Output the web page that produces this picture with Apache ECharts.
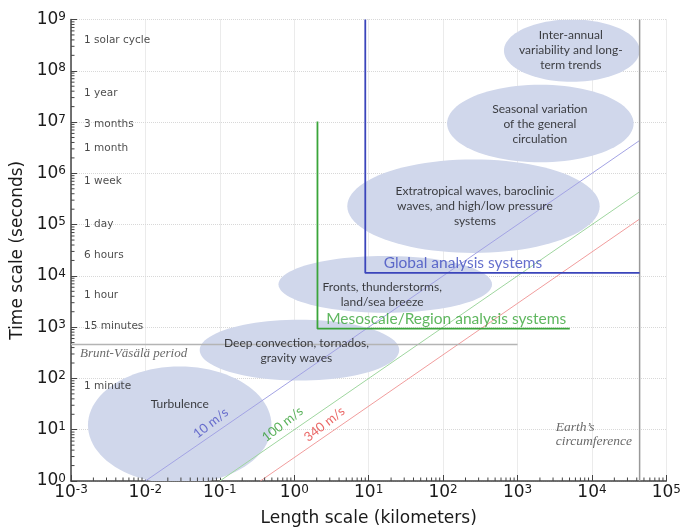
<!DOCTYPE html>
<html>
<head>
<meta charset="utf-8">
<script src="https://cdn.jsdelivr.net/npm/echarts@6.0.0/dist/echarts.min.js"></script>
<style>
  html, body { margin: 0; padding: 0; background: #fff; }
  #chart { width: 684px; height: 532px; }
</style>
</head>
<body>
<div id="chart"></div>
<script>
// ---------- data ----------
// axis extents (km, seconds)
const X_MIN = 1e-3, X_MAX = 1e5;
const Y_MIN = 1e0, Y_MAX = 1e9;
// minor tick layout (multiples within each decade)
const MINOR_MULT = [2, 3, 4, 5, 6, 7, 8, 9];
const X_DECADES = [1e-3, 1e-2, 1e-1, 1e0, 1e1, 1e2, 1e3, 1e4];
const Y_DECADES = [1e0, 1e1, 1e2, 1e3, 1e4, 1e5, 1e6, 1e7, 1e8];

// time reference labels (seconds)
const TIME_LABELS = ['1 solar cycle', '1 year', '3 months', '1 month', '1 week', '1 day', '6 hours', '1 hour', '15 minutes', '1 minute'];
const TIME_VALUES = [3.47e8, 3.156e7, 7.89e6, 2.63e6, 6.048e5, 86400, 21600, 3600, 900, 60];
const TIME_LABEL_X = 1.5e-3;

// phenomena ellipses (bounding boxes in km / seconds)
const PHENOMENA = [
  'Turbulence',
  'Deep convection, tornados,\ngravity waves',
  'Fronts, thunderstorms,\nland/sea breeze',
  'Extratropical waves, baroclinic\nwaves, and high/low pressure\nsystems',
  'Seasonal variation\nof the general\ncirculation',
  'Inter-annual\nvariability and long-\nterm trends'
];
const PHEN_X_MIN = [1.69e-3, 0.0536, 0.614, 5.16, 113, 657];
const PHEN_X_MAX = [0.494, 25.7, 454, 1.27e4, 3.63e4, 4.37e4];
const PHEN_T_MIN = [0.88, 91, 1.91e3, 2.8e4, 1.64e6, 6.1e7];
const PHEN_T_MAX = [171, 1.40e3, 2.45e4, 1.87e6, 5.35e7, 1.0e9];
const PHEN_LABEL_X = [0.0289, 1.07, 15.2, 268, 1995, 5200];
const PHEN_LABEL_T = [31.3, 350, 4276, 2.29e5, 8.94e6, 2.56e8];

// characteristic speed lines
const SPEED_NAMES = ['10 m/s', '100 m/s', '340 m/s'];
const SPEED_START_X = [0.01, 0.1, 0.35];
const SPEED_START_T = [1, 1, 1];
const SPEED_END_X = [4.37e4, 4.37e4, 4.37e4];
const SPEED_END_T = [4.37e6, 4.37e5, 1.285e5];
const SPEED_LABEL_X = [0.0754, 0.695, 2.54];
const SPEED_LABEL_T = [13.4, 12.8, 12.8];

// analysis systems (corner lines)
const GLOBAL_X = [9.0, 9.0, 4.37e4];
const GLOBAL_T = [1e9, 1.14e4, 1.14e4];
const GLOBAL_LABEL = ['Global analysis systems', 185, 1.79e4];
const MESO_X = [2.05, 2.05, 5040];
const MESO_T = [1.02e7, 935, 935];
const MESO_LABEL = ['Mesoscale/Region analysis systems', 110, 1462];

// reference lines
const BRUNT_X = [1e-3, 1e3];
const BRUNT_T = [457, 457];
const BRUNT_LABEL = ['Brunt-Väsälä period', 1.32e-3, 306];
const EARTH_X = [4.37e4, 4.37e4];
const EARTH_T = [1, 1e9];
const EARTH_LABEL = ['Earth\u2019s\ncircumference', 3270, 8.0];

// ---------- chart ----------
const chart = echarts.init(document.getElementById('chart'), null, { renderer: 'canvas' });

const SANS = 'DejaVu Sans';
const CAL = 'Lato';
const SERIF = 'Liberation Serif';

function powLabel(v) {
  const e = Math.round(Math.log10(v));
  return '{b|10}{s|' + (e < 0 ? '-' : '') + Math.abs(e) + '}';
}
const tickRich = {
  b: { fontSize: 17, fontFamily: SANS, color: '#1a1a1a', lineHeight: 17, verticalAlign: 'bottom' },
  s: { fontSize: 12, fontFamily: SANS, color: '#1a1a1a', lineHeight: 12, verticalAlign: 'top', padding: [0, 0, 7, 0] }
};

function zip(xs, ys) { return xs.map((x, i) => [x, ys[i]]); }

function lineSeries(data, color, width, z) {
  return {
    type: 'line', data: data, showSymbol: false, symbol: 'none', silent: true,
    lineStyle: { color: color, width: width }, z: z || 3, animation: false
  };
}

function labelSeries(items, style, z) {
  return {
    type: 'scatter', symbolSize: 0, silent: true, animation: false, z: z || 5,
    data: items.map(it => ({ name: it[0], value: [it[1], it[2]] })),
    label: Object.assign({ show: true, position: 'inside', formatter: '{b}' }, style)
  };
}

const ellipseData = PHENOMENA.map((n, i) => [PHEN_X_MIN[i], PHEN_X_MAX[i], PHEN_T_MIN[i], PHEN_T_MAX[i]]);

const xMinor = [];
X_DECADES.forEach(d => MINOR_MULT.forEach(m => xMinor.push([d * m, Y_MIN])));
const yMinor = [];
Y_DECADES.forEach(d => MINOR_MULT.forEach(m => yMinor.push([X_MIN, d * m])));

function minorTickSeries(data, horizontal) {
  return {
    type: 'custom', silent: true, animation: false, z: 6, clip: false,
    data: data,
    encode: { x: 0, y: 1 },
    renderItem: function (params, api) {
      const p = api.coord([api.value(0), api.value(1)]);
      const shape = horizontal
        ? { x1: p[0], y1: p[1], x2: p[0] + 3.5, y2: p[1] }
        : { x1: p[0], y1: p[1], x2: p[0], y2: p[1] - 3.5 };
      return { type: 'line', shape: shape, style: { stroke: '#444', lineWidth: 1 } };
    }
  };
}

const axisCommon = {
  type: 'log', logBase: 10, splitNumber: 10,
  nameLocation: 'middle',
  nameTextStyle: { fontSize: 17, fontFamily: SANS, color: '#1a1a1a' },
  axisLine: { show: true, lineStyle: { color: '#444', width: 1.5 } },
  axisTick: { show: true, inside: true, length: 6, lineStyle: { color: '#444', width: 1 } },
  minorTick: { show: false },
  splitLine: { show: true, lineStyle: { color: '#d8d8d8', type: 'dotted', width: 1 } }
};

const option = {
  animation: false,
  backgroundColor: '#fff',
  grid: { left: 71, right: 16, top: 19.5, bottom: 49, containLabel: false },
  xAxis: Object.assign({}, axisCommon, {
    min: X_MIN, max: X_MAX,
    name: 'Length scale (kilometers)', nameGap: 29,
    axisLabel: { formatter: powLabel, rich: tickRich, margin: 3, hideOverlap: false, showMinLabel: true, showMaxLabel: true }
  }),
  yAxis: Object.assign({}, axisCommon, {
    min: Y_MIN, max: Y_MAX,
    name: 'Time scale (seconds)', nameGap: 44,
    axisLabel: { formatter: powLabel, rich: tickRich, margin: 5, hideOverlap: false, showMinLabel: true, showMaxLabel: true }
  }),
  series: [
    // ellipses
    {
      type: 'custom', silent: true, animation: false, z: 1, clip: true,
      data: ellipseData,
      encode: { x: [0, 1], y: [2, 3] },
      renderItem: function (params, api) {
        const p1 = api.coord([api.value(0), api.value(2)]);
        const p2 = api.coord([api.value(1), api.value(3)]);
        const cx = (p1[0] + p2[0]) / 2, cy = (p1[1] + p2[1]) / 2;
        const rx = Math.abs(p2[0] - p1[0]) / 2, ry = Math.abs(p2[1] - p1[1]) / 2;
        const pts = [];
        for (let k = 0; k < 96; k++) {
          const a = k / 96 * Math.PI * 2;
          pts.push([cx + rx * Math.cos(a), cy + ry * Math.sin(a)]);
        }
        const cs = params.coordSys;
        return {
          type: 'polygon', shape: { points: pts },
          style: { fill: '#d0d7eb', stroke: null },
          clipPath: { type: 'rect', shape: { x: cs.x, y: cs.y, width: cs.width, height: cs.height } }
        };
      }
    },
    // speed lines
    lineSeries([[SPEED_START_X[0], SPEED_START_T[0]], [SPEED_END_X[0], SPEED_END_T[0]]], '#a3a3e4', 1, 2),
    lineSeries([[SPEED_START_X[1], SPEED_START_T[1]], [SPEED_END_X[1], SPEED_END_T[1]]], '#9fd69f', 1, 2),
    lineSeries([[SPEED_START_X[2], SPEED_START_T[2]], [SPEED_END_X[2], SPEED_END_T[2]]], '#f19d9d', 1, 2),
    // reference lines
    lineSeries(zip(BRUNT_X, BRUNT_T), '#b4b4b4', 1.5, 3),
    lineSeries(zip(EARTH_X, EARTH_T), '#999999', 1.5, 3),
    // analysis systems
    lineSeries(zip(GLOBAL_X, GLOBAL_T), '#3b45bb', 1.8, 4),
    lineSeries(zip(MESO_X, MESO_T), '#3aa53a', 1.8, 4),
    // minor ticks
    minorTickSeries(xMinor, false),
    minorTickSeries(yMinor, true),
    // labels: time references
    labelSeries(TIME_LABELS.map((t, i) => [t, TIME_LABEL_X, TIME_VALUES[i]]),
      { align: 'left', verticalAlign: 'middle', offset: [0, -3.3], fontSize: 10.5, fontFamily: SANS, color: '#1a1a1a' }),
    // labels: phenomena
    labelSeries(PHENOMENA.map((t, i) => [t, PHEN_LABEL_X[i], PHEN_LABEL_T[i]]),
      { align: 'center', verticalAlign: 'middle', fontSize: 12, lineHeight: 15, fontFamily: CAL, color: '#111' }),
    // labels: speeds
    {
      type: 'scatter', symbolSize: 0, silent: true, animation: false, z: 5,
      data: SPEED_NAMES.map((n, i) => ({
        name: n, value: [SPEED_LABEL_X[i], SPEED_LABEL_T[i]],
        label: { color: ['#4b50c4', '#2f9e2f', '#e5403f'][i] }
      })),
      label: { show: true, position: 'inside', formatter: '{b}', rotate: 38, fontSize: 13, fontFamily: CAL }
    },
    // labels: analysis systems
    labelSeries([GLOBAL_LABEL], { align: 'center', verticalAlign: 'middle', fontSize: 15.5, fontFamily: CAL, color: '#3f4cc0' }),
    labelSeries([MESO_LABEL], { align: 'center', verticalAlign: 'middle', fontSize: 15.5, fontFamily: CAL, color: '#37a537' }),
    // labels: reference lines
    labelSeries([BRUNT_LABEL], { align: 'left', verticalAlign: 'middle', fontSize: 13, fontStyle: 'italic', fontFamily: SERIF, color: '#444' }),
    labelSeries([EARTH_LABEL], { align: 'left', verticalAlign: 'middle', fontSize: 13.5, lineHeight: 14, fontStyle: 'italic', fontFamily: SERIF, color: '#444' })
  ]
};

chart.setOption(option);
</script>
</body>
</html>
